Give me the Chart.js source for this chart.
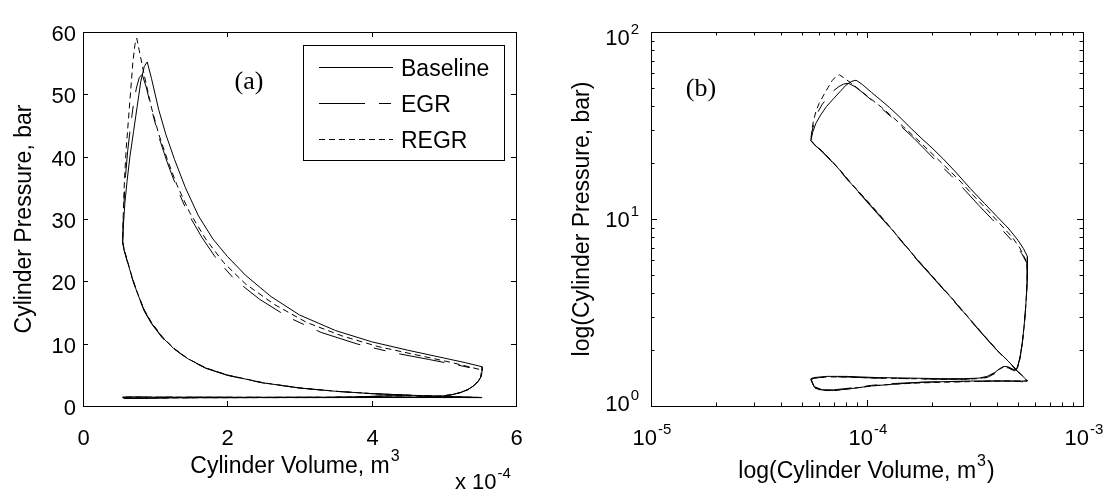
<!DOCTYPE html>
<html lang="en">
<head>
<meta charset="UTF-8">
<title>Cylinder Pressure vs Volume</title>
<script src="https://cdn.jsdelivr.net/npm/chart.js"></script>
<style>
    body { margin: 0; background: #fff; }
    #wrap { position: relative; width: 1109px; height: 491px; }
    canvas { position: absolute; top: 0; }
    #pv { left: 0; }
    #logpv { left: 555px; }
</style>
</head>
<body>
<div id="wrap">
    <canvas id="pv" width="555" height="491"></canvas>
    <canvas id="logpv" width="554" height="491"></canvas>
</div>
<script>
// Cycle traces: volume in units of 1e-4 m^3, pressure in bar.
// Each trace runs intake -> compression -> combustion -> expansion -> blowdown -> exhaust.
const baseVol = [
    0.55, 0.57, 0.62, 0.70, 0.85, 1.05, 1.35, 1.80, 2.30, 3.00, 3.80, 4.60, 5.20, 5.53,
    5.40, 5.00, 4.50, 4.00, 3.50, 3.00, 2.50, 2.00, 1.70, 1.45, 1.25, 1.10, 0.95, 0.85, 0.75, 0.68, 0.62, 0.57, 0.55,
    0.56, 0.58, 0.61, 0.65, 0.70, 0.75, 0.80, 0.85, 0.89,
    0.95, 1.05, 1.15, 1.27, 1.42, 1.60, 1.80, 2.00, 2.25, 2.60, 3.00, 3.50, 4.00, 4.50, 5.00, 5.30, 5.53,
    5.53, 5.52, 5.48, 5.42, 5.34, 5.24, 5.12, 4.98, 4.85,
    4.70, 4.50, 4.30, 4.10, 3.90, 3.60, 3.30, 2.80, 2.20, 1.60, 1.10, 0.80, 0.65, 0.57, 0.55
];
const basePres = [
    1.40, 1.27, 1.22, 1.21, 1.24, 1.28, 1.31, 1.34, 1.35, 1.36, 1.36, 1.36, 1.36, 1.36,
    1.40, 1.53, 1.74, 1.99, 2.36, 2.90, 3.70, 4.95, 6.10, 7.60, 9.30, 11.0, 13.3, 15.3, 18.2, 20.6, 23.0, 25.0, 26.3,
    29.0, 32.5, 36.0, 40.0, 44.0, 48.0, 52.0, 54.5, 55.2,
    52.5, 47.5, 43.5, 39.5, 35.0, 30.5, 26.8, 24.0, 21.0, 17.6, 14.6, 12.1, 10.3, 8.95, 7.70, 6.95, 6.30,
    5.60, 4.80, 4.00, 3.30, 2.70, 2.20, 1.85, 1.62, 1.56,
    1.58, 1.62, 1.63, 1.58, 1.51, 1.44, 1.41, 1.40, 1.40, 1.41, 1.42, 1.44, 1.44, 1.42, 1.40
];

const egrVol = [
    0.55, 0.57, 0.62, 0.70, 0.85, 1.05, 1.35, 1.80, 2.30, 3.00, 3.80, 4.60, 5.20, 5.52,
    5.40, 5.00, 4.50, 4.00, 3.50, 3.00, 2.50, 2.00, 1.70, 1.45, 1.25, 1.10, 0.95, 0.85, 0.75, 0.68, 0.62, 0.57, 0.55,
    0.555, 0.57, 0.59, 0.62, 0.66, 0.70, 0.74, 0.78, 0.82,
    0.88, 0.95, 1.05, 1.17, 1.30, 1.45, 1.65, 1.85, 2.10, 2.45, 2.85, 3.30, 3.80, 4.30, 4.80, 5.20, 5.50,
    5.52, 5.51, 5.47, 5.41, 5.33, 5.23, 5.11, 4.97, 4.84,
    4.70, 4.50, 4.30, 4.10, 3.90, 3.60, 3.30, 2.80, 2.20, 1.60, 1.10, 0.80, 0.65, 0.57, 0.55
];
const egrPres = [
    1.38, 1.26, 1.22, 1.22, 1.25, 1.29, 1.32, 1.34, 1.35, 1.35, 1.36, 1.36, 1.35, 1.35,
    1.39, 1.52, 1.73, 1.98, 2.35, 2.88, 3.68, 4.92, 6.05, 7.55, 9.25, 10.9, 13.2, 15.2, 18.1, 20.5, 22.9, 25.0, 26.2,
    29.0, 33.0, 37.0, 41.0, 45.0, 48.5, 51.0, 52.7, 53.2,
    51.0, 47.6, 43.2, 39.0, 35.0, 31.0, 27.0, 23.6, 20.3, 17.1, 14.2, 11.8, 9.95, 8.55, 7.45, 6.55, 5.80,
    5.30, 4.60, 3.90, 3.20, 2.60, 2.15, 1.80, 1.60, 1.54,
    1.56, 1.60, 1.61, 1.56, 1.49, 1.42, 1.40, 1.39, 1.39, 1.40, 1.41, 1.43, 1.43, 1.41, 1.38
];

const regrVol = [
    0.55, 0.57, 0.62, 0.70, 0.85, 1.05, 1.35, 1.80, 2.30, 3.00, 3.80, 4.60, 5.20, 5.53,
    5.40, 5.00, 4.50, 4.00, 3.50, 3.00, 2.50, 2.00, 1.70, 1.45, 1.25, 1.10, 0.95, 0.85, 0.75, 0.68, 0.62, 0.57, 0.55,
    0.555, 0.565, 0.58, 0.60, 0.63, 0.66, 0.69, 0.72, 0.745,
    0.78, 0.85, 0.95, 1.05, 1.17, 1.30, 1.48, 1.70, 1.95, 2.25, 2.65, 3.10, 3.60, 4.10, 4.70, 5.10, 5.50,
    5.52, 5.51, 5.47, 5.41, 5.33, 5.23, 5.11, 4.97, 4.84,
    4.70, 4.50, 4.30, 4.10, 3.90, 3.60, 3.30, 2.80, 2.20, 1.60, 1.10, 0.80, 0.65, 0.57, 0.55
];
const regrPres = [
    1.39, 1.25, 1.21, 1.21, 1.24, 1.28, 1.31, 1.33, 1.34, 1.35, 1.36, 1.36, 1.36, 1.36,
    1.40, 1.53, 1.74, 1.99, 2.37, 2.91, 3.72, 4.97, 6.12, 7.62, 9.35, 11.1, 13.4, 15.4, 18.3, 20.7, 23.1, 25.1, 26.4,
    29.5, 33.5, 37.5, 41.5, 46.0, 50.5, 55.0, 58.0, 59.0,
    57.0, 53.0, 47.8, 43.6, 39.5, 35.5, 31.0, 26.8, 23.0, 19.6, 16.3, 13.4, 11.2, 9.50, 8.00, 7.00, 5.85,
    5.30, 4.60, 3.90, 3.20, 2.60, 2.15, 1.80, 1.60, 1.54,
    1.57, 1.61, 1.62, 1.57, 1.50, 1.43, 1.40, 1.39, 1.39, 1.40, 1.41, 1.43, 1.43, 1.41, 1.39
];

const seriesNames = ['Baseline', 'EGR', 'REGR'];
const seriesDash = [[], [46, 14, 12, 14], [6, 4]];

// tick values
const volTicks = [0, 2, 4, 6];
const presTicks = [0, 10, 20, 30, 40, 50, 60];
const logVolTicks = [1e-5, 1e-4, 1e-3];
const logPresTicks = [1, 10, 100];

const FONT = '"Liberation Sans", Arial, sans-serif';
const SERIF = '"Liberation Serif", "Times New Roman", serif';

function toPoints(vol, pres, scale) {
    return vol.map((v, i) => ({ x: v * scale, y: pres[i] }));
}

function makeDatasets(scale) {
    const traces = [[baseVol, basePres], [egrVol, egrPres], [regrVol, regrPres]];
    return traces.map((t, i) => ({
        label: seriesNames[i],
        data: toPoints(t[0], t[1], scale),
        showLine: true,
        borderColor: '#000',
        borderWidth: 1,
        borderDash: seriesDash[i],
        pointRadius: 0,
        tension: 0,
        fill: false
    }));
}

function line(ctx, x1, y1, x2, y2) {
    ctx.beginPath();
    ctx.moveTo(x1, y1);
    ctx.lineTo(x2, y2);
    ctx.stroke();
}

// "10" with a raised exponent; y is the baseline of the base text
function drawPower(ctx, base, sup, x, y, align, size) {
    const small = Math.round(size * 0.68);
    ctx.font = size + 'px ' + FONT;
    const wb = ctx.measureText(base).width;
    ctx.font = small + 'px ' + FONT;
    const ws = ctx.measureText(sup).width;
    let left = x;
    if (align === 'center') left = x - (wb + ws) / 2;
    if (align === 'right') left = x - wb - ws;
    ctx.textAlign = 'left';
    ctx.textBaseline = 'alphabetic';
    ctx.font = size + 'px ' + FONT;
    ctx.fillText(base, left, y);
    ctx.font = small + 'px ' + FONT;
    ctx.fillText(sup, left + wb + 1, y - size * 0.52);
    return left + wb + ws + 1;
}

function drawVertical(ctx, text, x, y, size) {
    ctx.save();
    ctx.translate(x, y);
    ctx.rotate(-Math.PI / 2);
    ctx.font = size + 'px ' + FONT;
    ctx.textAlign = 'center';
    ctx.textBaseline = 'middle';
    ctx.fillText(text, 0, 0);
    ctx.restore();
}

function drawBox(ctx, a) {
    ctx.strokeRect(a.left + 0.5, a.top + 0.5, a.right - a.left, a.bottom - a.top);
}

const pvFrame = {
    id: 'pvFrame',
    afterDraw(chart) {
        const { ctx, chartArea: a } = chart;
        const x = chart.scales.x, y = chart.scales.y;
        ctx.save();
        ctx.strokeStyle = '#000';
        ctx.fillStyle = '#000';
        ctx.lineWidth = 1;
        drawBox(ctx, a);

        ctx.font = '22px ' + FONT;
        ctx.textAlign = 'center';
        ctx.textBaseline = 'alphabetic';
        volTicks.forEach(v => {
            const px = Math.round(x.getPixelForValue(v)) + 0.5;
            line(ctx, px, a.bottom, px, a.bottom - 5);
            line(ctx, px, a.top, px, a.top + 5);
            ctx.fillText(String(v), px, a.bottom + 39);
        });
        ctx.textAlign = 'right';
        presTicks.forEach(p => {
            const py = Math.round(y.getPixelForValue(p)) + 0.5;
            line(ctx, a.left, py, a.left + 5, py);
            line(ctx, a.right, py, a.right - 5, py);
            ctx.fillText(String(p), a.left - 7, py + 8);
        });

        // axis titles
        drawVertical(ctx, 'Cylinder Pressure, bar', 25, (a.top + a.bottom) / 2, 23);
        ctx.font = '23px ' + FONT;
        const t = 'Cylinder Volume, m';
        const tw = ctx.measureText(t).width;
        drawPower(ctx, t, '3', 296 - tw / 2 - 6, 473, 'left', 23);
        drawPower(ctx, 'x 10', '-4', 455, 489, 'left', 22);

        ctx.font = '26px ' + SERIF;
        ctx.textAlign = 'center';
        ctx.fillText('(a)', 249, 89);

        // legend
        const lx = 303, ly = 45, lw = 201, lh = 115;
        ctx.fillStyle = '#fff';
        ctx.fillRect(lx, ly, lw, lh);
        ctx.fillStyle = '#000';
        ctx.strokeRect(lx + 0.5, ly + 0.5, lw, lh);
        chart.data.datasets.forEach((ds, i) => {
            const yy = ly + 22.5 + i * 36;
            ctx.setLineDash(ds.borderDash);
            line(ctx, 319, yy, 393, yy);
            ctx.setLineDash([]);
            ctx.font = '23px ' + FONT;
            ctx.textAlign = 'left';
            ctx.fillText(ds.label, 401, yy + 8);
        });
        ctx.restore();
    }
};

const logFrame = {
    id: 'logFrame',
    afterDraw(chart) {
        const { ctx, chartArea: a } = chart;
        const x = chart.scales.x, y = chart.scales.y;
        ctx.save();
        ctx.strokeStyle = '#000';
        ctx.fillStyle = '#000';
        ctx.lineWidth = 1;
        drawBox(ctx, a);

        logVolTicks.forEach((d, i) => {
            const px = Math.round(x.getPixelForValue(d)) + 0.5;
            line(ctx, px, a.bottom, px, a.bottom - 6);
            line(ctx, px, a.top, px, a.top + 6);
            drawPower(ctx, '10', String(Math.round(Math.log10(d))), px, a.bottom + 39, 'center', 22);
            if (i < logVolTicks.length - 1) {
                for (let k = 2; k <= 9; k++) {
                    const mx = Math.round(x.getPixelForValue(d * k)) + 0.5;
                    line(ctx, mx, a.bottom, mx, a.bottom - 3.5);
                    line(ctx, mx, a.top, mx, a.top + 3.5);
                }
            }
        });
        // the end labels are pulled inside the axis span
        const yLabelBase = [411, 227, 45];
        logPresTicks.forEach((d, i) => {
            const py = Math.round(y.getPixelForValue(d)) + 0.5;
            line(ctx, a.left, py, a.left + 6, py);
            line(ctx, a.right, py, a.right - 6, py);
            drawPower(ctx, '10', String(Math.round(Math.log10(d))), a.left - 13, yLabelBase[i], 'right', 22);
            if (i < logPresTicks.length - 1) {
                for (let k = 2; k <= 9; k++) {
                    const my = Math.round(y.getPixelForValue(d * k)) + 0.5;
                    line(ctx, a.left, my, a.left + 3.5, my);
                    line(ctx, a.right, my, a.right - 3.5, my);
                }
            }
        });

        drawVertical(ctx, 'log(Cylinder Pressure, bar)', 28, (a.top + a.bottom) / 2, 23);
        ctx.font = '23px ' + FONT;
        const t1 = 'log(Cylinder Volume, m';
        const w1 = ctx.measureText(t1).width;
        const w2 = ctx.measureText(')').width;
        const cx = (a.left + a.right) / 2;
        const end = drawPower(ctx, t1, '3', cx - (w1 + w2 + 12) / 2, 478, 'left', 23);
        ctx.font = '23px ' + FONT;
        ctx.textAlign = 'left';
        ctx.fillText(')', end + 1, 478);

        ctx.font = '26px ' + SERIF;
        ctx.textAlign = 'center';
        ctx.fillText('(b)', 146, 96);
        ctx.restore();
    }
};

function baseOptions(pad) {
    return {
        responsive: false,
        animation: false,
        layout: { padding: pad },
        plugins: { legend: { display: false }, tooltip: { enabled: false } },
        elements: { line: { borderCapStyle: 'butt' } }
    };
}

const pvOptions = baseOptions({ left: 83, right: 39, top: 32, bottom: 85 });
pvOptions.scales = {
    x: { type: 'linear', min: 0, max: 6, display: false },
    y: { type: 'linear', min: 0, max: 60, display: false }
};
new Chart(document.getElementById('pv'), {
    type: 'scatter',
    data: { datasets: makeDatasets(1) },
    options: pvOptions,
    plugins: [pvFrame]
});

const logOptions = baseOptions({ left: 96, right: 26, top: 32, bottom: 85 });
logOptions.scales = {
    x: { type: 'logarithmic', min: 1e-5, max: 1e-3, display: false },
    y: { type: 'logarithmic', min: 1, max: 100, display: false }
};
new Chart(document.getElementById('logpv'), {
    type: 'scatter',
    data: { datasets: makeDatasets(1e-4) },
    options: logOptions,
    plugins: [logFrame]
});
</script>
</body>
</html>
